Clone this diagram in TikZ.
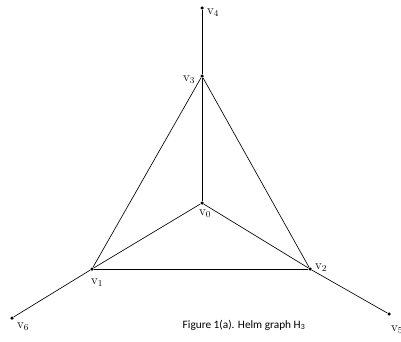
\documentclass[tikz,border=0pt]{standalone}
\usepackage{fontspec}
\newfontfamily\capfont{Carlito}
\begin{document}
\begin{tikzpicture}[x=1pt,y=-1pt,
  vtx/.style={circle,fill=black,inner sep=0pt,minimum size=3.5pt},
  edge/.style={draw=black,line width=0.65pt},
  lbl/.style={font=\fontsize{13}{14}\selectfont,inner sep=1pt}]
\useasboundingbox (0,0) rectangle (401,342);
\node[vtx] (v0) at (202,203) {};
\node[vtx] (v1) at (92,269) {};
\node[vtx] (v2) at (310,269) {};
\node[vtx] (v3) at (202,76) {};
\node[vtx] (v4) at (202,8) {};
\node[vtx] (v5) at (389,314) {};
\node[vtx] (v6) at (12,318) {};
\draw[edge] (v3) -- (v4);
\draw[edge] (v3) -- (v0);
\draw[edge] (v3) -- (v1);
\draw[edge] (v3) -- (v2);
\draw[edge] (v0) -- (v1);
\draw[edge] (v0) -- (v2);
\draw[edge] (v1) -- (v2);
\draw[edge] (v1) -- (v6);
\draw[edge] (v2) -- (v5);
\node[lbl] (l4) at (213,13) {$\mathrm{v}_4$};
\node[lbl] (l3) at (189,80) {$\mathrm{v}_3$};
\node[lbl] (l0) at (205,214) {$\mathrm{v}_0$};
\node[lbl] (l1) at (97,283) {$\mathrm{v}_1$};
\node[lbl] (l2) at (321,268) {$\mathrm{v}_2$};
\node[lbl] (l6) at (23,327) {$\mathrm{v}_6$};
\node[lbl] (l5) at (397,330) {$\mathrm{v}_5$};
\node[font=\capfont\fontsize{11.3}{13}\selectfont,inner sep=0pt] (cap) at (244,325) {Figure 1(a). Helm graph H\textsubscript{3}};
\end{tikzpicture}
\end{document}
